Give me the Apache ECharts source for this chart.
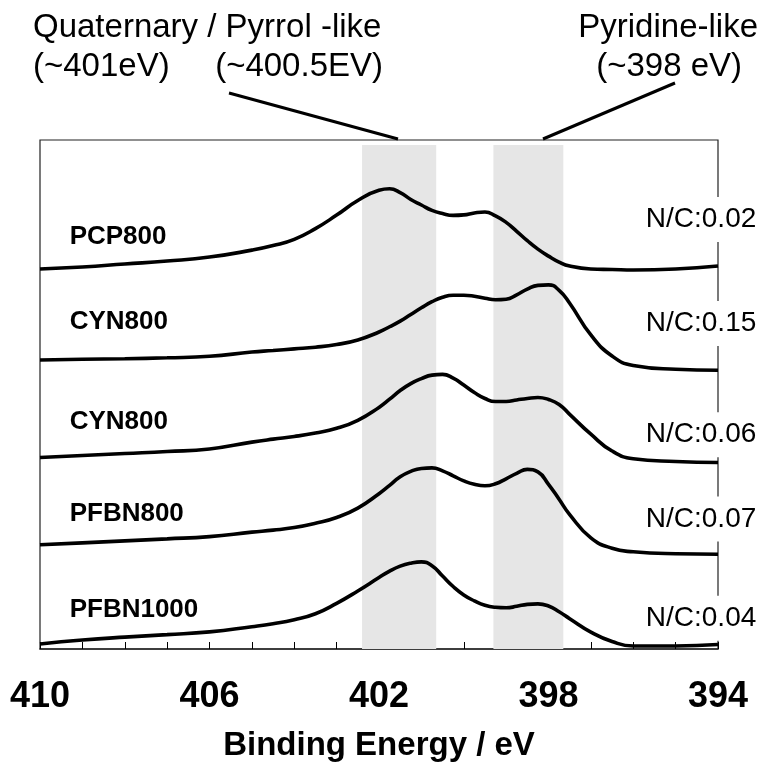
<!DOCTYPE html>
<html><head><meta charset="utf-8">
<script src="https://cdn.jsdelivr.net/npm/echarts@6/dist/echarts.min.js"></script>
<style>html,body{margin:0;padding:0;background:#fff}#c{width:766px;height:767px}</style>
</head><body><div id="c"></div><script>
// Binding energy grid (eV)
const energy = [410,409,408,407,406,405,404.5,404,403.5,403,402.5,402,401.75,401.5,401.25,401,400.75,400.5,400.25,400,399.75,399.5,399.25,399,398.75,398.5,398.25,398,397.75,397.5,397,396.5,396,395,394];
// Offset intensities (arbitrary units, stacked)
const pcp800   = [383,385,388,391,395,402,406.6,412.9,423.7,437.3,452,462.3,463.8,460,453,447.5,442,438.8,437,437.5,439.5,440.5,436.5,430,421,411.5,403,396,390,386,383,382.5,382,383,386];
const cyn800a  = [291.3,292,292.5,293.5,295,299.3,300.8,302.5,304.2,306.9,311.5,319.5,324.8,330.5,337.2,343.9,350,354.5,356.5,356.5,355.5,353.5,352,352.5,357,362.7,366.5,367,361.5,348.5,316.5,295.3,285.8,282,281];
const cyn800b  = [193,195,197,199,201.6,208.5,211.5,214.2,217.7,222.4,230.5,243.5,251.8,260.5,267.5,272.5,276,276.8,273,266,258.5,252.5,249.5,249.5,251,252.5,253.5,251.5,246.5,236.5,216.5,199.5,191.8,189,188];
const pfbn800  = [105,107,109,111,113.3,117.8,119.8,122.4,126.7,132.5,142,156.5,164.9,173.5,179,182,182.5,179.5,174.5,169.5,166,164.5,166.5,171.5,177,181,178.5,166,151,135.5,112,101.5,98,96,95.5];
const pfbn1000 = [5,9,12,14.5,17.3,22.5,25.5,29.5,35.5,46,58.5,72,78.5,83.5,86.5,87.8,84,73.5,63,54.5,48.5,44,42,41.5,43,45,45.5,43.3,37.5,30.5,17,7.5,3,3,4.5];

const sampleNames = ['PCP800','CYN800','CYN800','PFBN800','PFBN1000'];
const sampleLabelX = 409.3;
const sampleLabelY = [415, 330, 229, 136, 39];
const ncLabels = ['N/C:0.02','N/C:0.15','N/C:0.06','N/C:0.07','N/C:0.04'];
const ncLabelX = 394.4;
const ncLabelY = [433, 328, 216, 131, 31];
const bands = [[402.4, 400.65], [399.3, 397.65]];
const tickLabels = [410, 406, 402, 398, 394];
const xTitle = 'Binding Energy / eV';

const FONT = "'Liberation Sans', Arial, Helvetica, sans-serif";
const seriesVals = [pcp800, cyn800a, cyn800b, pfbn800, pfbn1000];

const chart = echarts.init(document.getElementById('c'), null, {renderer: 'canvas'});
const lineSeries = seriesVals.map((vals, i) => ({
  type: 'line', name: sampleNames[i] + i, z: 3,
  data: energy.map((e, k) => [e, vals[k]]),
  smooth: 0.5, showSymbol: false, silent: true,
  lineStyle: {color: '#000', width: 3.6}
}));

const option = {
  animation: false,
  backgroundColor: '#fff',
  grid: {left: 40, right: 48, top: 140, bottom: 114, show: true, borderColor: '#222', borderWidth: 1.2, backgroundColor: 'transparent'},
  xAxis: {
    type: 'value', inverse: true, min: 394, max: 410, interval: 1,
    axisLine: {show: true, lineStyle: {color: '#222', width: 1.5}},
    axisTick: {show: true, inside: true, length: 7, lineStyle: {color: '#000', width: 1}},
    splitLine: {show: false},
    axisLabel: {
      show: true, margin: 30, color: '#000', fontFamily: FONT, fontWeight: 'bold', fontSize: 36,
      formatter: v => tickLabels.indexOf(v) >= 0 ? String(v) : ''
    },
    name: xTitle, nameLocation: 'middle', nameGap: 80,
    nameTextStyle: {color: '#000', fontFamily: FONT, fontWeight: 'bold', fontSize: 33}
  },
  yAxis: {
    type: 'value', min: 0, max: 513,
    axisLine: {show: false}, axisTick: {show: false}, axisLabel: {show: false}, splitLine: {show: false}
  },
  series: [
    {
      type: 'line', data: [], z: 1, silent: true,
      markArea: {
        silent: true,
        itemStyle: {color: '#e6e6e6'},
        data: bands.map(b => [{xAxis: b[0], yAxis: 0}, {xAxis: b[1], yAxis: 508}])
      }
    },
    ...lineSeries,
    {
      type: 'scatter', z: 5, symbolSize: 0, silent: true, itemStyle: {opacity: 1},
      data: sampleNames.map((n, i) => ({value: [sampleLabelX, sampleLabelY[i]], name: n})),
      label: {show: true, position: 'inside', align: 'left', verticalAlign: 'middle', opacity: 1,
        formatter: p => p.name, color: '#000', textBorderWidth: 0, fontFamily: FONT, fontWeight: 'bold', fontSize: 26}
    },
    {
      type: 'scatter', z: 6, symbolSize: 0, silent: true, clip: false, itemStyle: {opacity: 1},
      data: ncLabels.map((n, i) => ({value: [ncLabelX, ncLabelY[i]], name: n})),
      label: {show: true, position: 'inside', align: 'center', verticalAlign: 'middle', opacity: 1,
        formatter: p => p.name, color: '#000', textBorderWidth: 0, fontFamily: FONT, fontSize: 28,
        backgroundColor: '#fff', padding: [14, 4, 3, 4]}
    }
  ],
  graphic: [
    {type: 'text', left: 33, top: 11, style: {text: 'Quaternary / Pyrrol -like', font: '33px ' + FONT, fill: '#000'}},
    {type: 'text', left: 33, top: 50, style: {text: '(~401eV)', font: '33px ' + FONT, fill: '#000'}},
    {type: 'text', right: 383, top: 50, style: {text: '(~400.5EV)', font: '33px ' + FONT, fill: '#000'}},
    {type: 'text', right: 8, top: 11, style: {text: 'Pyridine-like', font: '33px ' + FONT, fill: '#000'}},
    {type: 'text', right: 24, top: 50, style: {text: '(~398 eV)', font: '33px ' + FONT, fill: '#000'}},
    {type: 'line', shape: {x1: 229, y1: 93, x2: 398, y2: 139}, style: {stroke: '#000', lineWidth: 3}},
    {type: 'line', shape: {x1: 675, y1: 83, x2: 543, y2: 139}, style: {stroke: '#000', lineWidth: 3}}
  ]
};
chart.setOption(option);
</script></body></html>
